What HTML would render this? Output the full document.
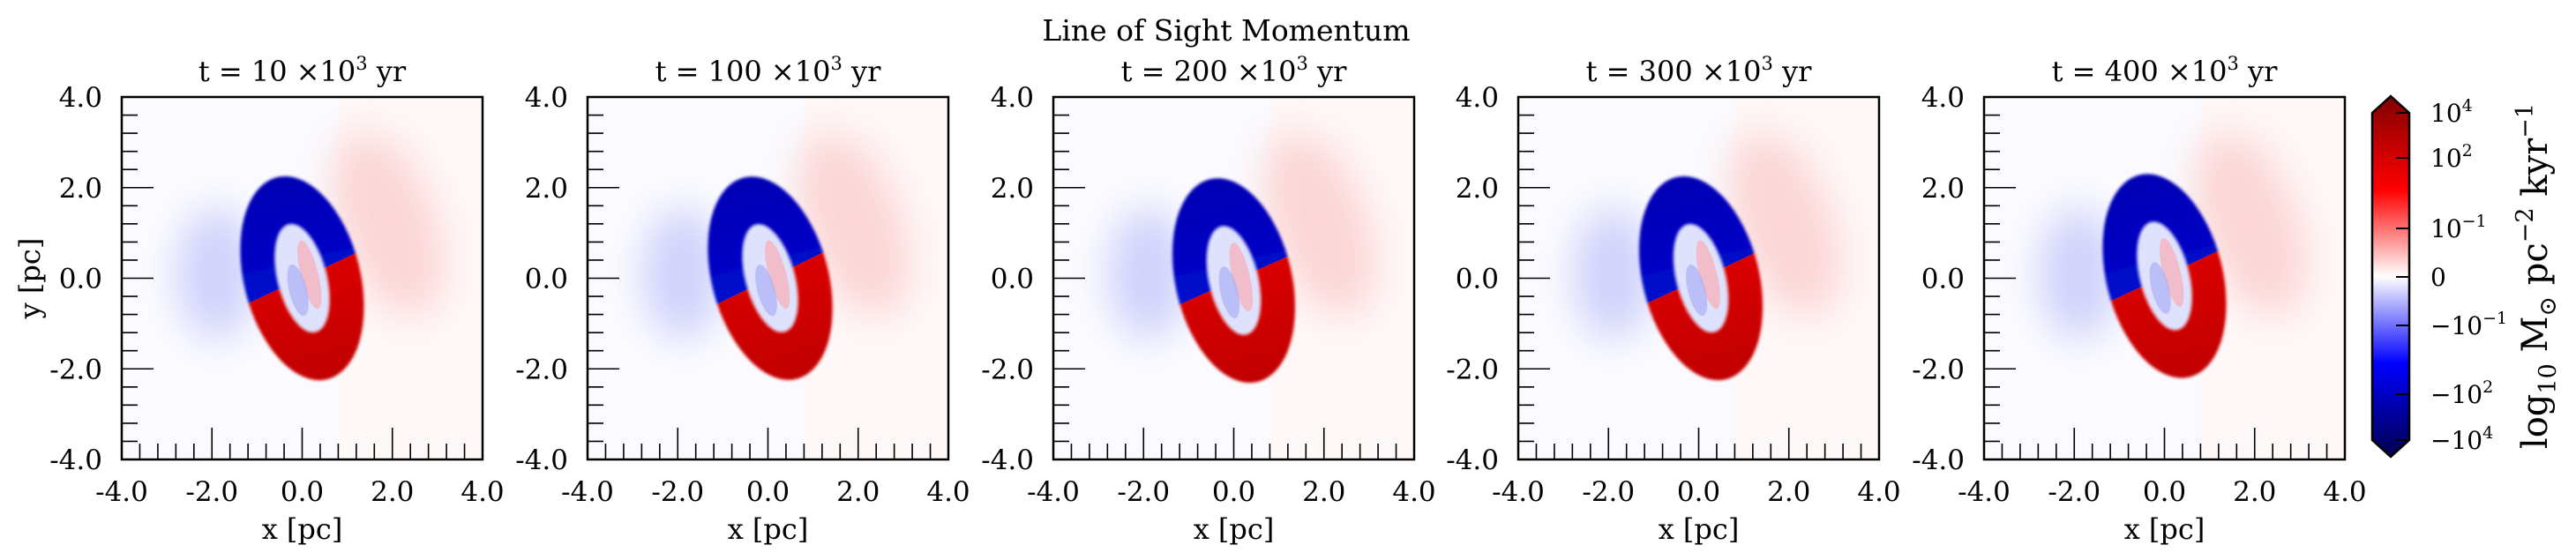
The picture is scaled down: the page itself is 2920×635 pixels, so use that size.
<!DOCTYPE html>
<html><head><meta charset="utf-8"><style>
body{margin:0;background:#fff;}
svg{display:block;font-family:"DejaVu Serif","Liberation Serif",serif;}
</style></head><body>
<svg id="fig" width="2920" height="635" viewBox="0 0 2920 635" xmlns="http://www.w3.org/2000/svg">
<defs>
<filter id="blur" x="-50%" y="-50%" width="200%" height="200%"><feGaussianBlur stdDeviation="22"/></filter>
<filter id="blur2" x="-20%" y="-20%" width="140%" height="140%"><feGaussianBlur stdDeviation="1.5"/></filter>
<linearGradient id="cbgrad" x1="0" y1="0" x2="0" y2="1">
<stop offset="0" stop-color="#800000"/><stop offset="0.26" stop-color="#ff0000"/><stop offset="0.5" stop-color="#ffffff"/><stop offset="0.74" stop-color="#0000ff"/><stop offset="1" stop-color="#00004c"/>
</linearGradient>
<linearGradient id="gblue" x1="0" y1="0" x2="0" y2="1"><stop offset="0" stop-color="#0000b4"/><stop offset="1" stop-color="#0010e0"/></linearGradient>
<linearGradient id="gred" x1="0" y1="0" x2="0" y2="1"><stop offset="0" stop-color="#f00000"/><stop offset="1" stop-color="#c00000"/></linearGradient>
</defs>
<text x="1390" y="46" font-size="33" text-anchor="middle">Line of Sight Momentum</text>
<g id="panels"></g>
<g id="cbar"></g>
</svg>
<script>
const times = [10, 100, 200, 300, 400];
const ringTilt = [-14, -15, -13, -14, -14];
const ringCx = [0.0, 0.05, 0.0, 0.05, 0.0];
const ringCy = [0.0, 0.0, -0.05, 0.0, 0.05];
const xTicks = [-4, -2, 0, 2, 4];
const xTickLabels = ["-4.0", "-2.0", "0.0", "2.0", "4.0"];
const cbTicks = [4, 2, -1, 0, -1, -2, -4];
const cbTickLabels = ["10<tspan dy='-12' font-size='19'>4</tspan>","10<tspan dy='-12' font-size='19'>2</tspan>","10<tspan dy='-12' font-size='19'>\u22121</tspan>","0","\u221210<tspan dy='-12' font-size='19'>\u22121</tspan>","\u221210<tspan dy='-12' font-size='19'>2</tspan>","\u221210<tspan dy='-12' font-size='19'>4</tspan>"];
const cbTickPos = [128, 179, 259, 314, 369, 447, 499];

const NS = "http://www.w3.org/2000/svg";
function mk(tag, attrs, parent){const e=document.createElementNS(NS,tag);for(const k in attrs)e.setAttribute(k,attrs[k]);if(parent)parent.appendChild(e);return e;}
const lefts = [138, 666, 1194, 1721, 2249];
const W = 409, H = 411, TOP = 110;
const panels = document.getElementById('panels');
times.forEach((t, i) => {
  const L = lefts[i];
  const sx = v => L + (v + 4) / 8 * W;
  const sy = v => TOP + (4 - v) / 8 * H;
  const g = mk('g', {}, panels);
  
  
  const title = mk('text', {x: L + W/2, y: 92, 'font-size': 32, 'text-anchor': 'middle'}, g);
  title.innerHTML = 't = ' + t + ' \u00d710<tspan dy="-13" font-size="21">3</tspan><tspan dy="13"> yr</tspan>';
  
  
  const cid = 'clip' + i;
  const cp = mk('clipPath', {id: cid}, g);
  mk('rect', {x: L, y: TOP, width: W, height: H}, cp);
  const img = mk('g', {'clip-path': 'url(#' + cid + ')'}, g);
  
  
  mk('rect', {x: L, y: TOP, width: W, height: H, fill: '#fbfbff'}, img);
  mk('rect', {x: sx(0.8), y: TOP, width: W, height: H, fill: '#fff8f8'}, img);
  mk('ellipse', {cx: sx(-1.9), cy: sy(0.1), rx: 45, ry: 75, fill: '#c4c8fa', opacity: 0.8, filter: 'url(#blur)'}, img);
  mk('ellipse', {cx: sx(1.9), cy: sy(1.2), rx: 55, ry: 110, fill: '#fbcaca', opacity: 0.75, filter: 'url(#blur)', transform: `rotate(-20 ${sx(1.9)} ${sy(1.2)})`}, img);
  const cx = sx(ringCx[i]), cy = sy(ringCy[i]);
  const rg = mk('g', {transform: `translate(${cx},${cy}) rotate(${ringTilt[i]})`}, img);
  
  
  const tid = 'top' + i, bid = 'bot' + i;
  const ct = mk('clipPath', {id: tid}, rg);
  mk('polygon', {points: '-200,0 200,0 200,-300 -200,-300', transform: 'rotate(-11)'}, ct);
  const cb = mk('clipPath', {id: bid}, rg);
  mk('polygon', {points: '-200,0 200,0 200,300 -200,300', transform: 'rotate(-11)'}, cb);
  mk('ellipse', {cx: 0, cy: 0, rx: 28, ry: 63, fill: '#dfe2fd'}, rg);
  mk('ellipse', {cx: 9, cy: -2, rx: 10, ry: 40, fill: '#f7b0b8', opacity: 0.75}, rg);
  mk('ellipse', {cx: -8, cy: 12, rx: 10, ry: 30, fill: '#aab0f4', opacity: 0.7}, rg);
  const ringPath = 'M-66,0 A66,118 0 1,0 66,0 A66,118 0 1,0 -66,0 Z M-28,0 A28,63 0 1,1 28,0 A28,63 0 1,1 -28,0 Z';
  mk('path', {d: ringPath, fill: 'url(#gblue)', 'fill-rule': 'evenodd', 'clip-path': 'url(#' + tid + ')', filter: 'url(#blur2)'}, rg);
  mk('path', {d: ringPath, fill: 'url(#gred)', 'fill-rule': 'evenodd', 'clip-path': 'url(#' + bid + ')', filter: 'url(#blur2)'}, rg);
  const frame = mk('rect', {x: L, y: TOP, width: W, height: H, fill: 'none', stroke: '#000', 'stroke-width': 2.5}, g);
  
  
  for (let v = -4; v <= 4.001; v += 0.4) {
    const major = Math.abs(Math.round(v / 2) * 2 - v) < 1e-6;
    const len = major ? 36 : 18;
    mk('line', {x1: sx(v), x2: sx(v), y1: TOP + H, y2: TOP + H - len, stroke: '#000', 'stroke-width': 1.6}, g);
    mk('line', {x1: L, x2: L + len, y1: sy(v), y2: sy(v), stroke: '#000', 'stroke-width': 1.6}, g);
  }
  xTicks.forEach((v, k) => {
    const tx = mk('text', {x: sx(v), y: 568, 'font-size': 31, 'text-anchor': 'middle'}, g);
    tx.textContent = xTickLabels[k];
    
    
    const ty = mk('text', {x: L - 22, y: sy(v) + 11, 'font-size': 31, 'text-anchor': 'end'}, g);
    ty.textContent = xTickLabels[k];
    
    
  });
  const xl = mk('text', {x: L + W/2, y: 611, 'font-size': 32, 'text-anchor': 'middle'}, g);
  xl.textContent = 'x [pc]';
  
  
  if (i === 0) {
    const yl = mk('text', {x: 0, y: 0, 'font-size': 32, 'text-anchor': 'middle', transform: `translate(45,${TOP + H/2}) rotate(-90)`}, g);
    yl.textContent = 'y [pc]';
    
    
  }
});
// colorbar
const cbar = document.getElementById('cbar');
const bar = mk('path', {d: 'M2689,128 L2710,109 L2731,128 L2731,499 L2710,518 L2689,499 Z', fill: 'url(#cbgrad)', stroke: '#000', 'stroke-width': 2.5}, cbar);


cbTickPos.forEach((y, k) => {
  mk('line', {x1: 2716, x2: 2731, y1: y, y2: y, stroke: '#000', 'stroke-width': 2}, cbar);
  const tl = mk('text', {x: 2755, y: y + 10, 'font-size': 28}, cbar);
  tl.innerHTML = cbTickLabels[k];
  
  
});
const cl = mk('text', {x: 0, y: 0, 'font-size': 40, 'text-anchor': 'middle', transform: 'translate(2887,313) rotate(-90)'}, cbar);
cl.innerHTML = 'log<tspan dy="10" font-size="27">10</tspan><tspan dy="-10"> M</tspan><tspan dy="10" font-size="27">\u2299</tspan><tspan dy="-10"> pc</tspan><tspan dy="-16" font-size="27">\u22122</tspan><tspan dy="16"> kyr</tspan><tspan dy="-16" font-size="27">\u22121</tspan>';


</script>
</body></html>
